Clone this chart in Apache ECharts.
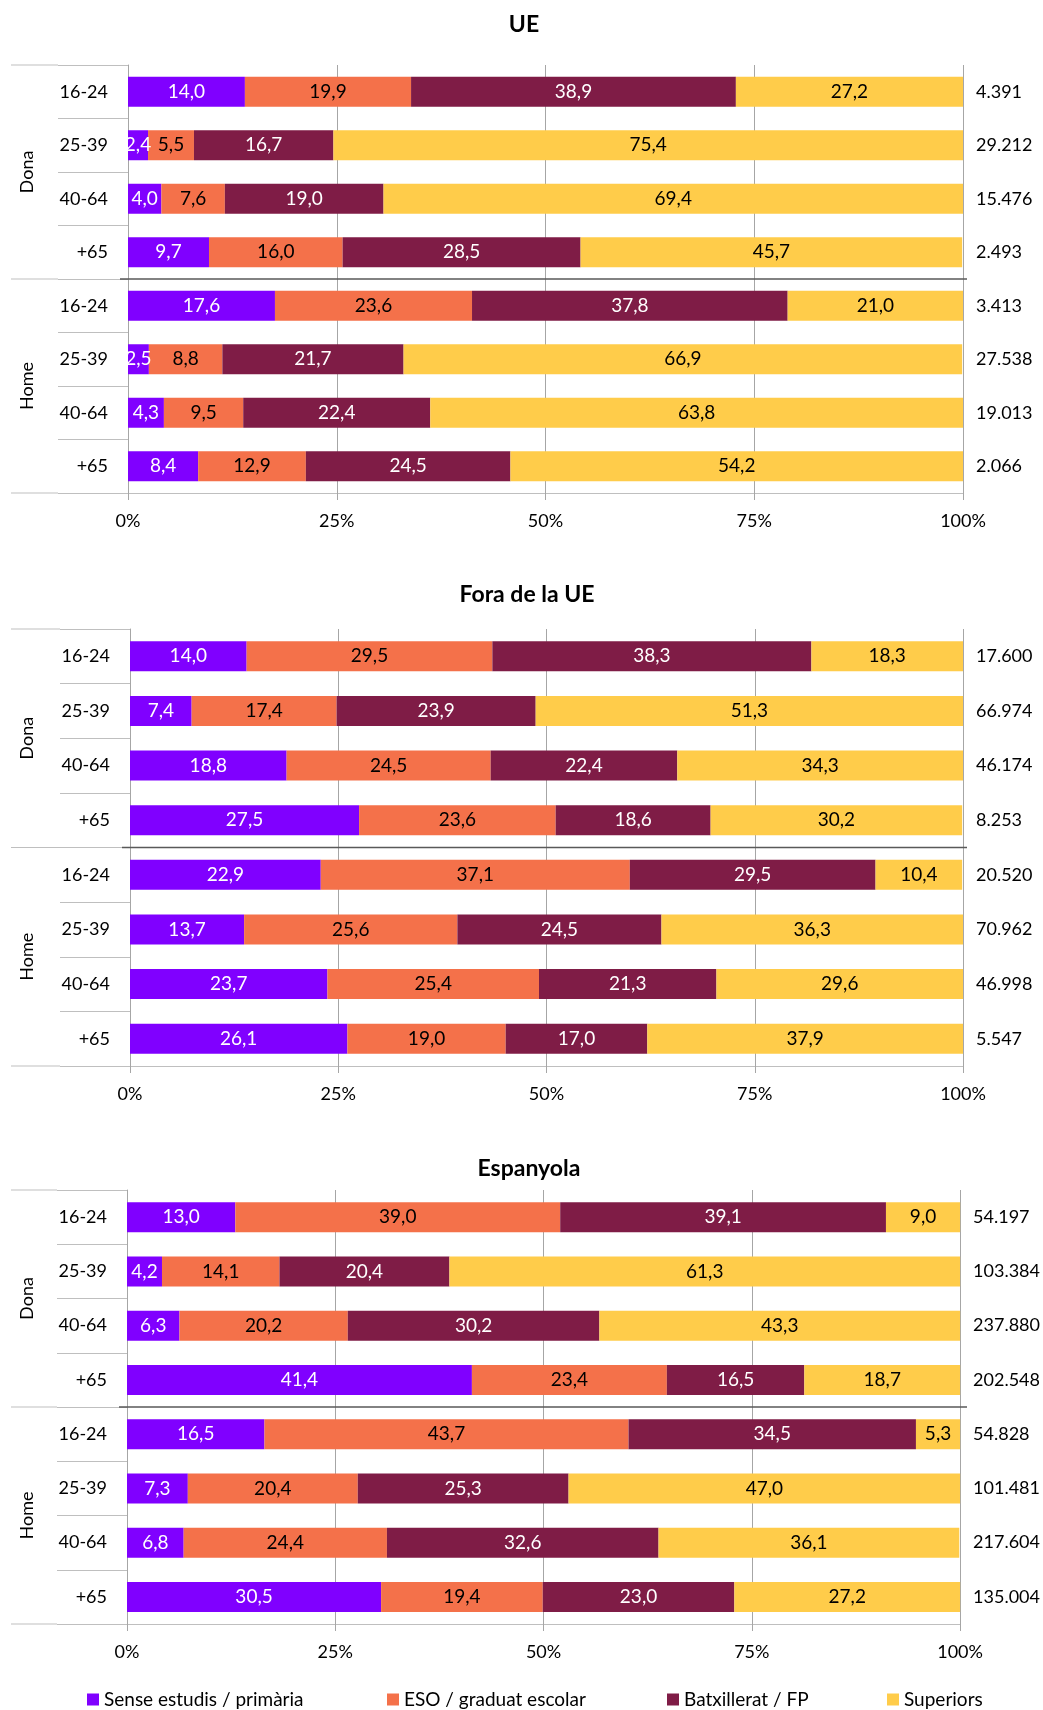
<!DOCTYPE html>
<html>
<head>
<meta charset="utf-8">
<script src="https://cdn.jsdelivr.net/npm/echarts@6/dist/echarts.min.js"></script>
<style>
html,body{margin:0;padding:0;background:#fff;}
#c{width:1043px;height:1710px;}
</style>
</head>
<body>
<div id="c"></div>
<script>
// ---- DATA ----
const ages = ['16-24', '25-39', '40-64', '+65'];
const groups = ['Dona', 'Home'];
const seriesNames = ['Sense estudis / primària', 'ESO / graduat escolar', 'Batxillerat / FP', 'Superiors'];
const chartTitles = ['UE', 'Fora de la UE', 'Espanyola'];
const xTickValues = [0, 25, 50, 75, 100];

const ueSense = [14.0, 2.4, 4.0, 9.7, 17.6, 2.5, 4.3, 8.4];
const ueEso   = [19.9, 5.5, 7.6, 16.0, 23.6, 8.8, 9.5, 12.9];
const ueBatx  = [38.9, 16.7, 19.0, 28.5, 37.8, 21.7, 22.4, 24.5];
const ueSup   = [27.2, 75.4, 69.4, 45.7, 21.0, 66.9, 63.8, 54.2];
const ueTotal = ['4.391', '29.212', '15.476', '2.493', '3.413', '27.538', '19.013', '2.066'];

const foraSense = [14.0, 7.4, 18.8, 27.5, 22.9, 13.7, 23.7, 26.1];
const foraEso   = [29.5, 17.4, 24.5, 23.6, 37.1, 25.6, 25.4, 19.0];
const foraBatx  = [38.3, 23.9, 22.4, 18.6, 29.5, 24.5, 21.3, 17.0];
const foraSup   = [18.3, 51.3, 34.3, 30.2, 10.4, 36.3, 29.6, 37.9];
const foraTotal = ['17.600', '66.974', '46.174', '8.253', '20.520', '70.962', '46.998', '5.547'];

const espSense = [13.0, 4.2, 6.3, 41.4, 16.5, 7.3, 6.8, 30.5];
const espEso   = [39.0, 14.1, 20.2, 23.4, 43.7, 20.4, 24.4, 19.4];
const espBatx  = [39.1, 20.4, 30.2, 16.5, 34.5, 25.3, 32.6, 23.0];
const espSup   = [9.0, 61.3, 43.3, 18.7, 5.3, 47.0, 36.1, 27.2];
const espTotal = ['54.197', '103.384', '237.880', '202.548', '54.828', '101.481', '217.604', '135.004'];

// ---- BUILD ----
const chartsData = [
  {series: [ueSense, ueEso, ueBatx, ueSup], totals: ueTotal},
  {series: [foraSense, foraEso, foraBatx, foraSup], totals: foraTotal},
  {series: [espSense, espEso, espBatx, espSup], totals: espTotal}
];
const layout = [
  {top: 65, height: 428, left: 128, width: 835, titleTop: 8, titleX: 519},
  {top: 629, height: 437, left: 130, width: 833, titleTop: 578, titleX: 522},
  {top: 1190, height: 434, left: 127, width: 836, titleTop: 1152, titleX: 524}
];
const legendLefts = [82, 382, 662, 882];
const colors = ['#8000FF', '#F4714A', '#7F1C46', '#FFCC4A'];
const labelColors = ['#ffffff', '#000000', '#ffffff', '#000000'];
const FONT = 'Lato, "Open Sans", sans-serif';

const cats = [];
groups.forEach(g => ages.forEach(a => cats.push(g + '|' + a)));

const option = {
  animation: false,
  color: colors,
  textStyle: {fontFamily: FONT},
  title: [], grid: [], xAxis: [], yAxis: [], series: [], graphic: [],
  legend: seriesNames.map((n, k) => ({
    left: legendLefts[k], top: 1685, itemWidth: 12, itemHeight: 12,
    icon: 'rect', data: [n],
    textStyle: {fontSize: 19, color: '#000', fontFamily: FONT}
  }))
};

layout.forEach((L, i) => {
  option.title.push({
    text: chartTitles[i], left: L.titleX, top: L.titleTop, textAlign: 'center',
    textStyle: {fontSize: 23, fontWeight: 'bold', color: '#000', fontFamily: FONT}
  });
  option.grid.push({left: L.left, top: L.top, width: L.width, height: L.height, containLabel: false});
  option.xAxis.push({
    type: 'value', gridIndex: i, min: 0, max: 100, interval: 25,
    axisLine: {show: true, lineStyle: {color: '#BFBFBF', width: 1}},
    axisTick: {show: true, length: 7, lineStyle: {color: '#A6A6A6'}},
    splitLine: {show: true, lineStyle: {color: '#A6A6A6', width: 1}},
    axisLabel: {formatter: v => xTickValues.includes(v) ? v + '%' : '', fontSize: 18, color: '#000', margin: 19, fontFamily: FONT}
  });
  option.yAxis.push({
    type: 'category', gridIndex: i, inverse: true, data: cats,
    axisLine: {show: true, lineStyle: {color: '#A6A6A6'}},
    axisTick: {show: true, length: 70, interval: 0, lineStyle: {color: '#BFBFBF'}},
    axisLabel: {formatter: v => v.split('|')[1], fontSize: 18, color: '#000', margin: 20, fontFamily: FONT},
    splitLine: {show: false}
  });
  option.yAxis.push({
    type: 'category', gridIndex: i, inverse: true, position: 'right',
    data: chartsData[i].totals,
    axisLine: {show: false}, axisTick: {show: false},
    axisLabel: {fontSize: 18, color: '#000', margin: 13, align: 'left', fontFamily: FONT}
  });
  chartsData[i].series.forEach((vals, s) => {
    option.series.push({
      name: seriesNames[s], type: 'bar', stack: 'c' + i,
      xAxisIndex: i, yAxisIndex: i * 2, barWidth: 30,
      itemStyle: {color: colors[s]},
      label: {
        show: true, position: 'inside', fontSize: 19, color: labelColors[s], fontFamily: FONT,
        formatter: p => p.value.toFixed(1).replace('.', ',')
      },
      data: vals
    });
  });
  const mid = L.top + L.height / 2;
  [L.top, mid, L.top + L.height].forEach(y => {
    option.graphic.push({type: 'line', shape: {x1: 11, y1: y, x2: L.left - 70, y2: y},
      style: {stroke: '#BFBFBF', lineWidth: 1}, silent: true});
  });
  option.graphic.push({type: 'line', shape: {x1: L.left - 8, y1: mid, x2: L.left + L.width + 4, y2: mid},
    style: {stroke: '#595959', lineWidth: 1.5}, silent: true, z: 100});
  groups.forEach((g, k) => {
    option.graphic.push({
      type: 'text', x: 27, y: L.top + L.height * (k * 2 + 1) / 4, rotation: Math.PI / 2,
      style: {text: g, fontSize: 18, fill: '#000', fontFamily: FONT, align: 'center', verticalAlign: 'middle'},
      silent: true
    });
  });
});

const chart = echarts.init(document.getElementById('c'), null, {renderer: 'canvas'});
chart.setOption(option);
</script>
</body>
</html>
